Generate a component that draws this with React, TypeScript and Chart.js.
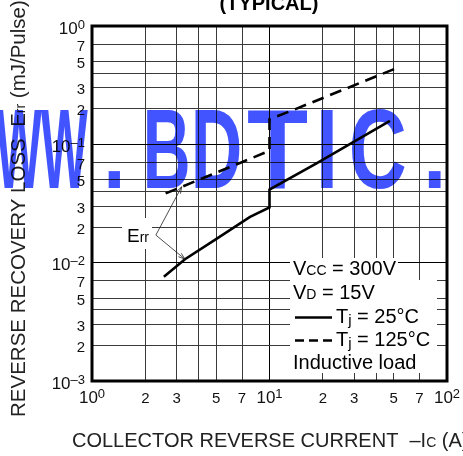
import React, { useEffect, useRef } from 'react';
import { Chart, registerables } from 'chart.js';

Chart.register(...registerables);

// ---------------- data ----------------
const CURRENT_25C = [2.54, 3.34, 5.0, 7.77, 10, 10, 18.4, 47.7];
const ERR_25C = [0.0076, 0.0107, 0.0158, 0.0244, 0.0293, 0.0415, 0.069, 0.158];
const CURRENT_125C = [2.6, 7.09, 10, 10, 13.6, 50.5];
const ERR_125C = [0.0385, 0.0713, 0.0883, 0.163, 0.195, 0.433];

const X_GRID = [1, 2, 3, 4, 5, 7, 10, 20, 30, 40, 50, 70, 100];
const Y_GRID = [0.001, 0.002, 0.003, 0.004, 0.005, 0.007, 0.01, 0.02, 0.03, 0.04, 0.05, 0.07, 0.1, 0.2, 0.3, 0.4, 0.5, 0.7, 1];
const X_TICK_VALUES = [1, 2, 3, 5, 7, 10, 20, 30, 50, 70, 100];
const X_TICK_LABELS = ['10^0', '2', '3', '5', '7', '10^1', '2', '3', '5', '7', '10^2'];
const Y_TICK_VALUES = [1, 0.7, 0.5, 0.3, 0.2, 0.1, 0.07, 0.05, 0.03, 0.02, 0.01, 0.007, 0.005, 0.003, 0.002, 0.001];
const Y_TICK_LABELS = ['10^0', '7', '5', '3', '2', '10^–1', '7', '5', '3', '2', '10^–2', '7', '5', '3', '2', '10^–3'];

const TITLE = '(TYPICAL)';
const X_TITLE = ['COLLECTOR REVERSE CURRENT  –I', 'C', ' (A)'];
const Y_TITLE = ['REVERSE RECOVERY LOSS  E', 'rr', ' (mJ/Pulse)'];
const ERR_LABEL = ['E', 'rr'];
const ARROW_VERTEX = { x: 2.29, y: 0.0171 };
const ARROW_TARGETS = [{ x: 3.2, y: 0.0438 }, { x: 3.34, y: 0.0107 }];
const COND_VCC = ['V', 'CC', ' = 300V'];
const COND_VD = ['V', 'D', ' = 15V'];
const TJ_25 = ['T', 'j', ' = 25°C'];
const TJ_125 = ['T', 'j', ' = 125°C'];
const LOAD_TEXT = 'Inductive load';
const WATERMARK = ['W', 'W', '.', 'B', 'D', 'T', 'I', 'C', '.'];

// ---------------- layout ----------------
const W = 463;
const H = 456;
const FONT = "'Liberation Sans', Arial, Helvetica, sans-serif";
const WM_BOX: number[][] = [[-4, 46], [41, 47], [108, 12], [146.7, 41], [195, 45], [248, 60], [320.7, 12.6], [352, 53], [428.3, 12.4]];

type Run = { t: string; s: number; dy?: number; b?: boolean };

function font(s: number, b?: boolean) {
  return `${b ? 'bold ' : ''}${s}px ${FONT}`;
}
function runsWidth(ctx: CanvasRenderingContext2D, runs: Run[]) {
  let w = 0;
  for (const r of runs) {
    ctx.font = font(r.s, r.b);
    w += ctx.measureText(r.t).width;
  }
  return w;
}
function drawRuns(ctx: CanvasRenderingContext2D, runs: Run[], x: number, y: number, align: 'left' | 'center' | 'right') {
  const w = runsWidth(ctx, runs);
  let cx = align === 'left' ? x : align === 'center' ? x - w / 2 : x - w;
  ctx.textAlign = 'left';
  ctx.textBaseline = 'alphabetic';
  for (const r of runs) {
    ctx.font = font(r.s, r.b);
    ctx.fillText(r.t, cx, y + (r.dy || 0));
    cx += ctx.measureText(r.t).width;
  }
}
function labelRuns(label: string, main: number, digit: number, sup: number): Run[] {
  if (label.startsWith('10^')) {
    return [{ t: '10', s: main }, { t: label.slice(3), s: sup, dy: -5 }];
  }
  return [{ t: label, s: digit }];
}
function arrow(ctx: CanvasRenderingContext2D, x0: number, y0: number, x1: number, y1: number) {
  ctx.beginPath();
  ctx.moveTo(x0, y0);
  ctx.lineTo(x1, y1);
  const a = Math.atan2(y1 - y0, x1 - x0);
  const L = 7;
  const sp = 0.32;
  ctx.moveTo(x1 - L * Math.cos(a - sp), y1 - L * Math.sin(a - sp));
  ctx.lineTo(x1, y1);
  ctx.lineTo(x1 - L * Math.cos(a + sp), y1 - L * Math.sin(a + sp));
  ctx.stroke();
}

const decor = {
  id: 'decor',
  beforeDraw(chart: any) {
    const ctx = chart.ctx as CanvasRenderingContext2D;
    ctx.save();
    ctx.fillStyle = '#fff';
    ctx.fillRect(0, 0, chart.width, chart.height);
    ctx.restore();
  },
  afterDraw(chart: any) {
    const ctx = chart.ctx as CanvasRenderingContext2D;
    const xs = chart.scales.x;
    const ys = chart.scales.y;
    const a = chart.chartArea;
    ctx.save();

    // condition box backgrounds
    ctx.fillStyle = '#fff';
    ctx.fillRect(290, 258, 108, 22);
    ctx.fillRect(290, 280, 147, 93);
    // Err label background
    ctx.fillRect(122, 218, 30, 31);

    ctx.fillStyle = '#000';
    // Err label + arrows
    drawRuns(ctx, [{ t: ERR_LABEL[0], s: 19 }, { t: ERR_LABEL[1], s: 14 }], 127, 242, 'left');
    ctx.strokeStyle = '#222';
    ctx.lineWidth = 0.8;
    const vx = xs.getPixelForValue(ARROW_VERTEX.x);
    const vy = ys.getPixelForValue(ARROW_VERTEX.y);
    for (const t of ARROW_TARGETS) {
      arrow(ctx, vx, vy, xs.getPixelForValue(t.x), ys.getPixelForValue(t.y));
    }

    // conditions text
    ctx.fillStyle = '#000';
    drawRuns(ctx, [{ t: COND_VCC[0], s: 20 }, { t: COND_VCC[1], s: 14 }, { t: COND_VCC[2], s: 20 }], 293, 275, 'left');
    drawRuns(ctx, [{ t: COND_VD[0], s: 20 }, { t: COND_VD[1], s: 14 }, { t: COND_VD[2], s: 20 }], 293, 298.5, 'left');
    drawRuns(ctx, [{ t: TJ_25[0], s: 20 }, { t: TJ_25[1], s: 15, dy: 2 }, { t: TJ_25[2], s: 20 }], 336, 322.5, 'left');
    drawRuns(ctx, [{ t: TJ_125[0], s: 20 }, { t: TJ_125[1], s: 15, dy: 2 }, { t: TJ_125[2], s: 20 }], 336, 346, 'left');
    drawRuns(ctx, [{ t: LOAD_TEXT, s: 20 }], 293, 369, 'left');
    ctx.strokeStyle = '#000';
    ctx.lineWidth = 2.6;
    ctx.beginPath();
    ctx.moveTo(295, 317.5);
    ctx.lineTo(332, 317.5);
    ctx.stroke();
    ctx.setLineDash([9, 5]);
    ctx.beginPath();
    ctx.moveTo(295, 340.5);
    ctx.lineTo(332, 340.5);
    ctx.stroke();
    ctx.setLineDash([]);

    // frame
    ctx.lineWidth = 3;
    ctx.strokeRect(a.left, a.top, a.right - a.left, a.bottom - a.top);

    // tick labels
    ctx.fillStyle = '#111';
    X_TICK_VALUES.forEach((v, i) => {
      drawRuns(ctx, labelRuns(X_TICK_LABELS[i], 17, 15, 13), xs.getPixelForValue(v), 403, 'center');
    });
    Y_TICK_VALUES.forEach((v, i) => {
      const lab = Y_TICK_LABELS[i];
      const py = ys.getPixelForValue(v);
      drawRuns(ctx, labelRuns(lab, 17, 15, 13), 85, py + (lab.startsWith('10^') ? 7.5 : 6.5), 'right');
    });

    // titles
    ctx.fillStyle = '#000';
    drawRuns(ctx, [{ t: TITLE, s: 20, b: true }], 269, 10, 'center');
    ctx.fillStyle = '#222';
    drawRuns(ctx, [{ t: X_TITLE[0], s: 20 }, { t: X_TITLE[1], s: 14 }, { t: X_TITLE[2], s: 20 }], 72, 447, 'left');
    ctx.save();
    ctx.translate(25, 417);
    ctx.rotate(-Math.PI / 2);
    drawRuns(ctx, [{ t: Y_TITLE[0], s: 20.5 }, { t: Y_TITLE[1], s: 14 }, { t: Y_TITLE[2], s: 20.5 }], 0, 0, 'left');
    ctx.restore();

    // watermark
    ctx.globalCompositeOperation = 'multiply';
    ctx.fillStyle = '#4254ff';
    ctx.font = font(100, true);
    const capH = ctx.measureText('B').actualBoundingBoxAscent;
    const sy = 78 / capH;
    WATERMARK.forEach((ch, i) => {
      const [left, width] = WM_BOX[i];
      const m = ctx.measureText(ch);
      const gw = m.actualBoundingBoxLeft + m.actualBoundingBoxRight;
      const sx = width / gw;
      ctx.save();
      ctx.translate(left, 188);
      ctx.scale(sx, sy);
      ctx.textAlign = 'left';
      ctx.textBaseline = 'alphabetic';
      ctx.fillText(ch, m.actualBoundingBoxLeft, 0);
      ctx.restore();
    });
    ctx.restore();
  },
};

const isDecade = (v: number) => Math.abs(Math.log10(v) - Math.round(Math.log10(v))) < 1e-9;

export default function App() {
  const ref = useRef<HTMLCanvasElement | null>(null);
  useEffect(() => {
    if (!ref.current) return;
    const gridColor = (c: any) => (c.tick && isDecade(c.tick.value) ? '#000' : '#3a3a3a');
    const chart = new Chart(ref.current, {
      type: 'scatter',
      data: {
        datasets: [
          {
            data: CURRENT_25C.map((x, i) => ({ x, y: ERR_25C[i] })),
            borderColor: '#000',
            borderWidth: 2.6,
            pointRadius: 0,
            showLine: true,
            tension: 0,
            fill: false,
          },
          {
            data: CURRENT_125C.map((x, i) => ({ x, y: ERR_125C[i] })),
            borderColor: '#000',
            borderWidth: 2.6,
            borderDash: [12, 7],
            pointRadius: 0,
            showLine: true,
            tension: 0,
            fill: false,
          },
        ],
      },
      options: {
        animation: false,
        responsive: false,
        devicePixelRatio: 1,
        events: [],
        layout: { padding: { left: 92, top: 26, right: 16, bottom: 75 } },
        plugins: { legend: { display: false }, tooltip: { enabled: false } },
        scales: {
          x: {
            type: 'logarithmic',
            min: 1,
            max: 100,
            afterBuildTicks: (s: any) => {
              s.ticks = X_GRID.map((v) => ({ value: v }));
            },
            ticks: { display: false },
            grid: { color: gridColor, lineWidth: 1, drawTicks: false },
            border: { display: false },
          },
          y: {
            type: 'logarithmic',
            min: 0.001,
            max: 1,
            afterBuildTicks: (s: any) => {
              s.ticks = Y_GRID.map((v) => ({ value: v }));
            },
            ticks: { display: false },
            grid: { color: gridColor, lineWidth: 1, drawTicks: false },
            border: { display: false },
          },
        },
      },
      plugins: [decor],
    } as any);
    return () => chart.destroy();
  }, []);
  return (
    <div style={{ position: 'fixed', left: 0, top: 0, width: W, height: H }}>
      <canvas ref={ref} width={W} height={H} style={{ display: 'block', width: W, height: H }} />
    </div>
  );
}
